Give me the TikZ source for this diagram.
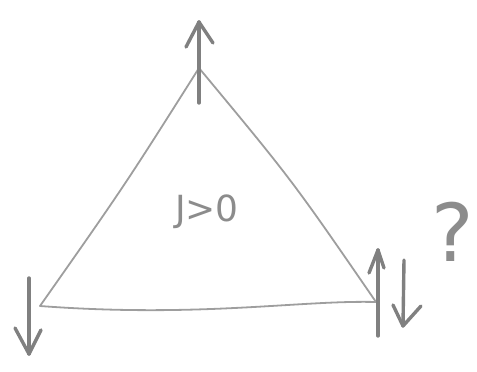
\documentclass[tikz,border=0pt]{standalone}
\usepackage{fontspec}
\setmainfont{DejaVu Sans}
\begin{document}
\begin{tikzpicture}[x=1pt,y=-1pt,
  edge/.style={draw=black!38, line width=1.8pt, line cap=round},
  spin/.style={draw=black!50, line width=3.4pt, line cap=round, line join=round},
  lbl/.style={text=black!45, inner sep=0pt}]
\useasboundingbox (0,0) rectangle (477,372);
% vertices
\coordinate (T) at (199,68);
\coordinate (L) at (40,306);
\coordinate (R) at (376,302);
\draw[edge] (L) .. controls (125,185) .. (T);
\draw[edge] (T) .. controls (292,180) .. (R);
\draw[edge] (L) .. controls (200,318) and (300,300) .. (R);
% top arrow
\coordinate (ta) at (199,103);
\coordinate (tb) at (199,22);
\draw[spin] (ta) -- (tb);
\draw[spin] (186,47) -- (tb) -- (213,43);
% left arrow
\coordinate (la) at (29,278);
\coordinate (lb) at (29,354);
\draw[spin] (la) -- (lb);
\draw[spin] (15,328) -- (lb) -- (41,330);
% right up arrow
\coordinate (ra) at (378,336);
\coordinate (rb) at (378,250);
\draw[spin] (ra) -- (rb);
\draw[spin] (369,273) -- (rb) -- (384,268);
% right down arrow
\coordinate (da) at (404,260);
\coordinate (db) at (403,326);
\draw[spin] (da) -- (db);
\draw[spin] (393,305) -- (db) -- (421,306);
% labels
\node[lbl, font=\fontsize{36}{40}\selectfont] (J) at (207,212) {J>0};
\node[lbl, font=\fontsize{80}{90}\selectfont] (q) at (453,232) {?};
\end{tikzpicture}
\end{document}
